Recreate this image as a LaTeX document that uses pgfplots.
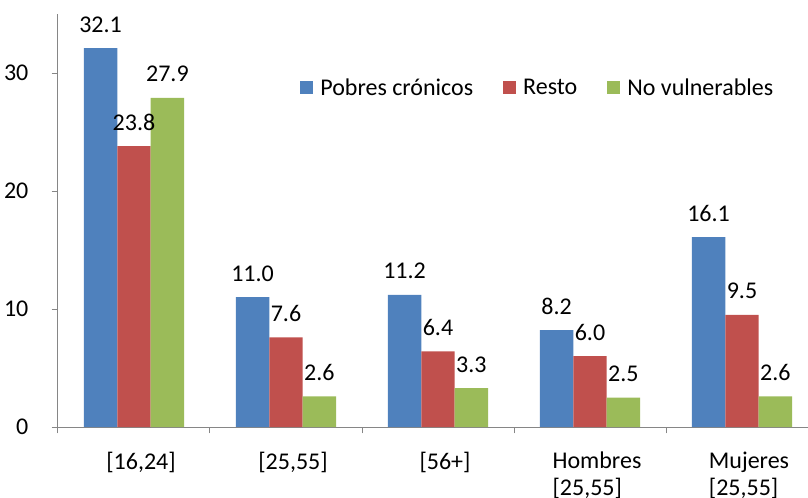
\documentclass[border=0pt]{standalone}
\usepackage{pgfplots}
\pgfplotsset{compat=1.18}
\usepackage{fontspec}
\setmainfont{Carlito}
\definecolor{cblue}{HTML}{4F81BD}
\definecolor{cred}{HTML}{C0504D}
\definecolor{cgreen}{HTML}{9BBB59}
\definecolor{axgray}{HTML}{868686}
\newcommand{\chartfont}{\fontsize{18}{20.25}\selectfont}
\begin{document}
\begin{tikzpicture}
\begin{axis}[
  at={(0pt,0pt)}, anchor=south west,
  scale only axis,
  width=570pt, height=309.75pt,
  xmin=-0.5, xmax=4.5, ymin=0, ymax=35,
  enlargelimits=false,
  axis lines=left,
  axis line style={-, draw=axgray, line width=0.75pt},
  ybar=0pt, bar width=0.22,
  ytick={0,10,20,30},
  xtick={-0.5,0.5,1.5,2.5,3.5,4.5},
  x tick label as interval,
  xticklabels={{[16,24]},{[25,55]},{[56+]},{Hombres\\{}[25,55]},{Mujeres\\{}[25,55]}},
  tick align=outside, major tick length=4.8pt,
  tick style={draw=axgray, line width=0.75pt},
  /pgf/number format/assume math mode=true,
  ticklabel style={font=\chartfont, text=black},
  xticklabel style={align=left, anchor=north, inner sep=0pt, yshift=-14pt, xshift=5.25pt},
  yticklabel style={anchor=east, inner sep=0pt, xshift=-17.25pt},
  nodes near coords={\pgfmathprintnumber[fixed,fixed zerofill,precision=1]{\pgfplotspointmeta}},
  every node near coord/.append style={font=\chartfont, anchor=base, inner sep=0pt, yshift=12pt, text=black},
  legend style={at={(0.630,0.821)}, anchor=center, draw=none, fill=none,
    legend columns=-1, font=\chartfont, column sep=0pt,
    nodes={inner sep=0pt},
    /tikz/every odd column/.append style={column sep=5.25pt},
    /tikz/every even column/.append style={column sep=22.5pt}},
  legend image code/.code={\fill[#1] (0pt,-4.875pt) rectangle (9.75pt,4.875pt);},
]
\addplot[fill=cblue, draw=none, bar shift=-0.22] coordinates {(0,32.1) (1,11.0) (2,11.2) (3,8.2) (4,16.1)};
\addplot[fill=cred, draw=none, bar shift=0] coordinates {(0,23.8) (1,7.6) (2,6.4) (3,6.0) (4,9.5)};
\addplot[fill=cgreen, draw=none, bar shift=0.22] coordinates {(0,27.9) (1,2.6) (2,3.3) (3,2.5) (4,2.6)};
\legend{Pobres crónicos, Resto, No vulnerables}
\end{axis}
\pgfresetboundingbox
\path[use as bounding box] (-43.5pt,-52.5pt) rectangle (562.5pt,320.25pt);
\end{tikzpicture}
\end{document}
